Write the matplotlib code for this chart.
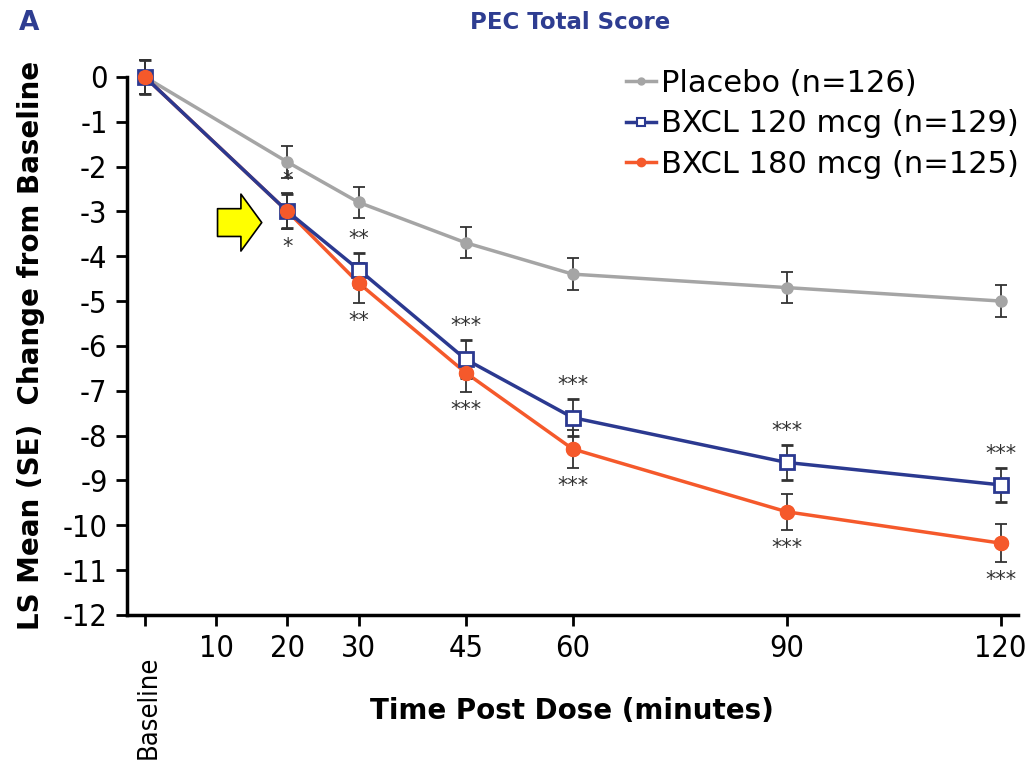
import matplotlib
matplotlib.use("Agg")
import matplotlib.pyplot as plt
import matplotlib.transforms as mtransforms
from matplotlib.lines import Line2D
import numpy as np

# data
times = [0, 20, 30, 45, 60, 90, 120]
placebo = [0, -1.9, -2.8, -3.7, -4.4, -4.7, -5.0]
placebo_se = [0.38, 0.35, 0.35, 0.35, 0.35, 0.35, 0.35]
bxcl120 = [0, -3.0, -4.3, -6.3, -7.6, -8.6, -9.1]
bxcl120_se = [0.38, 0.38, 0.38, 0.42, 0.42, 0.4, 0.38]
bxcl180 = [0, -3.0, -4.6, -6.6, -8.3, -9.7, -10.4]
bxcl180_se = [0.38, 0.4, 0.45, 0.42, 0.42, 0.4, 0.42]
stars_120 = ["", "*", "**", "***", "***", "***", "***"]
stars_180 = ["", "*", "**", "***", "***", "***", "***"]
labels = ["Placebo (n=126)", "BXCL 120 mcg (n=129)", "BXCL 180 mcg (n=125)"]

xticks = [0, 10, 20, 30, 45, 60, 90, 120]
xticklabels = ["", "10", "20", "30", "45", "60", "90", "120"]
baseline_label = "Baseline"
yticks = list(range(0, -13, -1))

c_grey = "#A5A5A5"
c_blue = "#2B3990"
c_orange = "#F5592B"
c_title = "#2E3D91"

fig = plt.figure(figsize=(10.28, 7.61), dpi=100)
ax = fig.add_axes([0.1235, 0.192, 0.8665, 0.707])

eb = dict(ecolor="#333333", elinewidth=1.3, capsize=4, capthick=1.3, clip_on=False)
ax.errorbar(times, placebo, yerr=placebo_se, color=c_grey, lw=2.5, marker="o",
            ms=8, zorder=3, **eb)
ax.errorbar(times, bxcl180, yerr=bxcl180_se, color=c_orange, lw=2.5, marker="o",
            ms=10, zorder=4, **eb)
ax.errorbar(times, bxcl120, yerr=bxcl120_se, color=c_blue, lw=2.5, marker="s",
            ms=10, mfc="white", mew=2, zorder=5, **eb)
# orange markers on top of the blue squares
ax.plot(times, bxcl180, ls="none", marker="o", ms=10, color=c_orange, zorder=6, clip_on=False)

for t, m, s, lab in zip(times, bxcl120, bxcl120_se, stars_120):
    if lab:
        ax.annotate(lab, (t, m + s), xytext=(0, 14), textcoords="offset pixels",
                    ha="center", va="center", fontsize=15, color="#333333")
for t, m, s, lab in zip(times, bxcl180, bxcl180_se, stars_180):
    if lab:
        ax.annotate(lab, (t, m - s), xytext=(0, -18), textcoords="offset pixels",
                    ha="center", va="center", fontsize=15, color="#333333")

# yellow arrow pointing at the 20 min point
ax.annotate("", xy=(16.4, -3.25), xytext=(10.2, -3.25),
            arrowprops=dict(arrowstyle="simple,head_length=1.5,head_width=4.1,tail_width=2.0",
                            fc="#FFFF00", ec="black", lw=1.2, mutation_scale=10,
                            shrinkA=0, shrinkB=0))

ax.set_xlim(-2.5, 122.4)
ax.set_ylim(-12, 0)
ax.set_xticks(xticks)
ax.set_xticklabels(xticklabels, fontsize=22, fontstretch="condensed")
# rotated baseline label sits a bit lower than the other tick labels
trans = mtransforms.blended_transform_factory(ax.transData, ax.transAxes)
ax.text(xticks[0] + 0.6, -0.075, baseline_label, transform=trans, rotation=90,
        ha="center", va="top", fontsize=19.5, fontstretch="condensed")
ax.set_yticks(yticks)
ax.set_yticklabels([str(v) for v in yticks], fontsize=22, fontstretch="condensed")
ax.tick_params(axis="both", direction="out", length=8, width=2, pad=6)

for side in ["top", "right"]:
    ax.spines[side].set_visible(False)
for side in ["left", "bottom"]:
    ax.spines[side].set_linewidth(2.5)

ax.set_xlabel("Time Post Dose (minutes)", fontsize=20, fontweight="bold")
ax.xaxis.set_label_coords(0.5, -0.153)
ax.set_ylabel("LS Mean (SE)  Change from Baseline", fontsize=20, fontweight="bold")
ax.yaxis.set_label_coords(-0.092, 0.5)

handles = [
    Line2D([], [], color=c_grey, lw=2.5, marker="o", ms=5),
    Line2D([], [], color=c_blue, lw=2.5, marker="s", ms=6, mfc="white", mew=1.5),
    Line2D([], [], color=c_orange, lw=2.5, marker="o", ms=6),
]
ax.legend(handles, labels, loc="upper right", bbox_to_anchor=(1.032, 1.066), frameon=False,
          fontsize=22, handlelength=1.0, handletextpad=0.15, labelspacing=0.38)

fig.text(0.018, 0.97, "A", fontsize=19, fontweight="bold", color=c_title, va="center")
fig.text(0.555, 0.97, "PEC Total Score", fontsize=16.5, fontweight="bold", color=c_title,
         ha="center", va="center")

fig.savefig("out.png", dpi=100)
